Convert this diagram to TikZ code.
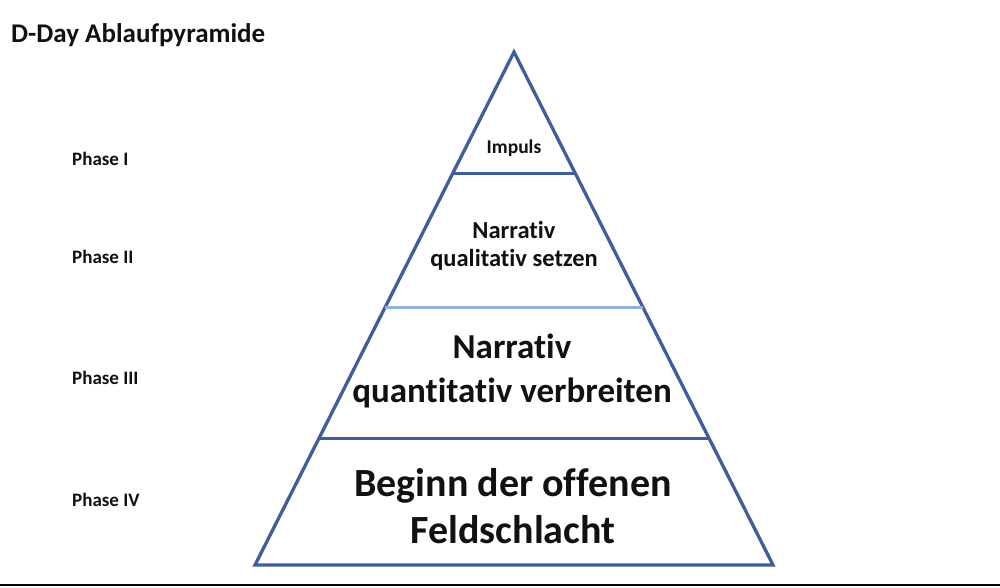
\documentclass[tikz,border=0pt]{standalone}
\usepackage{fontspec}
\setmainfont{Carlito}[Ligatures={NoCommon,NoRequired,NoContextual}]
\usetikzlibrary{calc}
\definecolor{pyrblue}{HTML}{3F5E9B}
\definecolor{pyrlight}{HTML}{8FB3DD}
\definecolor{ink}{HTML}{111111}
\tikzset{
  outline/.style={draw=pyrblue, line width=3.3pt, line join=miter},
  divider/.style={draw=pyrblue, line width=3pt},
  lightdivider/.style={draw=pyrlight, line width=3pt},
  phase/.style={anchor=west, text=ink, font=\fontsize{19}{23}\selectfont\bfseries, inner sep=0pt},
  lbl/.style={align=center, text=ink, inner sep=0pt}
}
\begin{document}
\begin{tikzpicture}[x=1pt,y=-1pt]
\useasboundingbox (0,0) rectangle (1000,587);
\fill[white] (0,0) rectangle (1000,587);
% bottom black rule
\coordinate (rl) at (0,585);
\coordinate (rr) at (1000,585);
\draw[black, line width=2.4pt] (rl) -- (rr);
% title
\node[anchor=west, inner sep=0pt, text=ink, font=\fontsize{27}{31}\selectfont\bfseries] (title) at (11,35) {D-Day Ablaufpyramide};
% pyramid
\coordinate (apex) at (514,52);
\coordinate (bl) at (255,565);
\coordinate (br) at (773,565);
\draw[outline] (apex) -- (bl) -- (br) -- cycle;
\coordinate (l1) at ($(apex)!0.236!(bl)$);
\coordinate (r1) at ($(apex)!0.236!(br)$);
\coordinate (l2) at ($(apex)!0.499!(bl)$);
\coordinate (r2) at ($(apex)!0.499!(br)$);
\coordinate (l3) at ($(apex)!0.754!(bl)$);
\coordinate (r3) at ($(apex)!0.754!(br)$);
\draw[divider] (l1) -- (r1);
\draw[lightdivider] (l2) -- (r2);
\draw[divider] (l3) -- (r3);
% labels inside
\node[lbl, font=\fontsize{19.5}{23}\selectfont\bfseries] (impuls) at (514,148) {Impuls};
\node[lbl, font=\fontsize{24.5}{28}\selectfont\bfseries] (narr1) at (514,246) {Narrativ\\qualitativ setzen};
\node[lbl, font=\fontsize{35}{44}\selectfont\bfseries] (narr2) at (512,371) {Narrativ\\quantitativ verbreiten};
\node[lbl, font=\fontsize{40}{47}\selectfont\bfseries] (beginn) at (513,506) {Beginn der offenen\\Feldschlacht};
% phases
\node[phase] (p1) at (72,159) {Phase I};
\node[phase] (p2) at (72,257) {Phase II};
\node[phase] (p3) at (72,378) {Phase III};
\node[phase] (p4) at (72,500) {Phase IV};
\end{tikzpicture}
\end{document}
